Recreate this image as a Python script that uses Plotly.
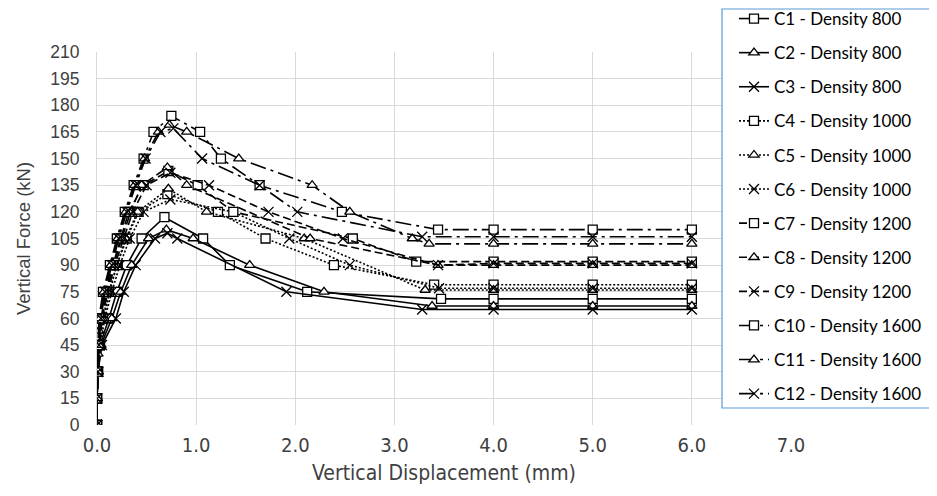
import plotly.graph_objects as go

# ---- data ----
names = ["C1 - Density 800", "C2 - Density 800", "C3 - Density 800",
         "C4 - Density 1000", "C5 - Density 1000", "C6 - Density 1000",
         "C7 - Density 1200", "C8 - Density 1200", "C9 - Density 1200",
         "C10 - Density 1600", "C11 - Density 1600", "C12 - Density 1600"]

c1_x = [0, 0, 0.01, 0.03, 0.12, 0.2, 0.3, 0.45, 0.68, 1.07, 1.34, 2.12, 3.47, 4, 5, 6]
c1_y = [0, 15, 30, 45, 60, 75, 90, 105, 117, 105, 90, 75, 71, 71, 71, 71]
c2_x = [0, 0, 0.01, 0.04, 0.15, 0.24, 0.35, 0.52, 0.70, 0.97, 1.54, 2.29, 3.38, 4, 5, 6]
c2_y = [0, 15, 30, 45, 60, 75, 90, 105, 110, 105, 90, 75, 67, 67, 67, 67]
c3_x = [0, 0, 0.01, 0.05, 0.19, 0.27, 0.39, 0.585, 0.71, 0.81, 1.91, 3.28, 4, 5, 6]
c3_y = [0, 15, 30, 45, 60, 75, 90, 105, 108, 105, 75, 65, 65, 65, 65]

c4_x = [0, 0, 0.01, 0.03, 0.06, 0.12, 0.2, 0.3, 0.42, 0.71, 1.22, 1.70, 2.39, 3.40, 4, 5, 6]
c4_y = [0, 15, 30, 45, 60, 75, 90, 105, 120, 130, 120, 105, 90, 79, 79, 79, 79]
c5_x = [0, 0, 0.01, 0.01, 0.02, 0.07, 0.13, 0.2, 0.29, 0.41, 0.72, 1.105, 2.09, 3.31, 4, 5, 6]
c5_y = [0, 15, 30, 40, 53, 60, 75, 90, 105, 120, 133, 120, 105, 76, 76, 76, 76]
c6_x = [0, 0, 0.01, 0.03, 0.08, 0.15, 0.23, 0.33, 0.47, 0.74, 1.375, 1.94, 2.55, 3.45, 4, 5, 6]
c6_y = [0, 15, 30, 45, 60, 75, 90, 105, 120, 127, 120, 105, 90, 77, 77, 77, 77]

c7_x = [0, 0, 0.01, 0.02, 0.04, 0.09, 0.16, 0.24, 0.32, 0.47, 0.72, 1.015, 1.375, 2.58, 3.22, 4, 5, 6]
c7_y = [0, 15, 30, 45, 60, 75, 90, 105, 120, 135, 143, 135, 120, 105, 92, 92, 92, 92]
c8_x = [0, 0, 0.01, 0.02, 0.05, 0.1, 0.17, 0.25, 0.34, 0.45, 0.71, 0.905, 2.15, 3.44, 4, 5, 6]
c8_y = [0, 15, 30, 45, 60, 75, 90, 105, 120, 135, 145, 135, 105, 90, 90, 90, 90]
c9_x = [0, 0, 0.01, 0.03, 0.05, 0.11, 0.18, 0.27, 0.36, 0.5, 0.74, 1.13, 1.73, 2.48, 3.44, 4, 5, 6]
c9_y = [0, 15, 30, 45, 60, 75, 90, 105, 120, 135, 142, 135, 120, 105, 90, 91, 91, 91]

c10_x = [0, 0, 0.0, 0.01, 0.02, 0.06, 0.13, 0.2, 0.28, 0.37, 0.47, 0.57, 0.75, 1.04, 1.25, 1.64, 2.47, 3.44, 4, 5, 6]
c10_y = [0, 15, 30, 45, 60, 75, 90, 105, 120, 135, 150, 165, 174, 165, 150, 135, 120, 110, 110, 110, 110]
c11_x = [0, 0, 0.01, 0.02, 0.03, 0.07, 0.14, 0.21, 0.29, 0.38, 0.48, 0.62, 0.73, 0.905, 1.43, 2.17, 2.55, 3.18, 3.35, 4, 5, 6]
c11_y = [0, 15, 30, 45, 60, 75, 90, 105, 120, 135, 150, 165, 169, 165, 150, 135, 120, 105, 102, 102, 102, 102]
c12_x = [0, 0, 0.01, 0.02, 0.04, 0.08, 0.15, 0.22, 0.3, 0.39, 0.49, 0.64, 0.77, 1.06, 1.64, 2.02, 3.28, 4, 5, 6]
c12_y = [0, 15, 30, 45, 60, 75, 90, 105, 120, 135, 150, 165, 167, 150, 135, 120, 106, 106, 106, 106]

xs = [c1_x, c2_x, c3_x, c4_x, c5_x, c6_x, c7_x, c8_x, c9_x, c10_x, c11_x, c12_x]
ys = [c1_y, c2_y, c3_y, c4_y, c5_y, c6_y, c7_y, c8_y, c9_y, c10_y, c11_y, c12_y]

x_ticks = [0, 1, 2, 3, 4, 5, 6, 7]
y_ticks = list(range(0, 211, 15))

# ---- styles ----
dashes = ["solid", "2px,2px", "8px,4px", "16px,5px,3px,5px"]
symbols = ["square", "triangle-up", "x-thin"]

fig = go.Figure()
for i, (nm, xv, yv) in enumerate(zip(names, xs, ys)):
    sym = symbols[i % 3]
    dash = dashes[i // 3]
    fig.add_trace(go.Scatter(
        x=xv, y=yv, name=nm, mode="lines+markers",
        legendgroup=nm,
        line=dict(color="black", width=1.6, dash=dash),
        marker=dict(symbol=sym, size=9 if sym != "x-thin" else 10,
                    color="white" if sym != "x-thin" else "black",
                    line=dict(color="black", width=1.3)),
    ))

OFF = 8  # page body margin
W, H = 937 - OFF, 496 - OFF
L, T = 97 - OFF, 52 - OFF
pw, ph = 694, 373
R, B = W - L - pw, H - T - ph

def px_x(p):
    return (p - OFF - L) / pw

def px_y(p):
    return (T + ph - (p - OFF)) / ph

fig.add_shape(type="rect", xref="paper", yref="paper",
              x0=px_x(722), x1=px_x(933), y0=px_y(408), y1=px_y(9),
              line=dict(color="#5b9bd5", width=1.2), fillcolor="white", layer="above")

fig.update_layout(
    width=W, height=H,
    margin=dict(l=L, r=R, t=T, b=B, autoexpand=False),
    paper_bgcolor="white", plot_bgcolor="white",
    showlegend=True,
    legend=dict(x=px_x(734), y=px_y(1), xanchor="left", yanchor="top",
                bgcolor="rgba(0,0,0,0)", borderwidth=0, maxheight=470,
                font=dict(family="Lato, Open Sans, sans-serif", size=17, color="#000"),
                tracegroupgap=9, itemwidth=30),
    xaxis=dict(range=[0, 7], tickvals=x_ticks, ticktext=[f"{v:.1f}" for v in x_ticks],
               showgrid=True, gridcolor="#d9d9d9", gridwidth=1,
               showline=False, zeroline=False, ticks="",
               ticklabelstandoff=6,
               tickfont=dict(family="Liberation Sans Narrow, DejaVu Sans Condensed, sans-serif", size=20, color="#404040"),
               title=dict(text="Vertical Displacement (mm)", standoff=9,
                          font=dict(family="Liberation Sans Narrow, DejaVu Sans Condensed, sans-serif", size=21, color="#404040"))),
    yaxis=dict(range=[0, 210], tickvals=y_ticks,
               showgrid=True, gridcolor="#d9d9d9", gridwidth=1,
               showline=True, linecolor="#d9d9d9", zeroline=False, ticks="",
               ticklabelstandoff=13,
               tickfont=dict(family="Liberation Sans, Arial, sans-serif", size=17.5, color="#404040"),
               title=dict(text="Vertical Force (kN)", standoff=14,
                          font=dict(family="Liberation Sans, Arial, sans-serif", size=18.5, color="#404040"))),
)

fig.write_html("out.html")
